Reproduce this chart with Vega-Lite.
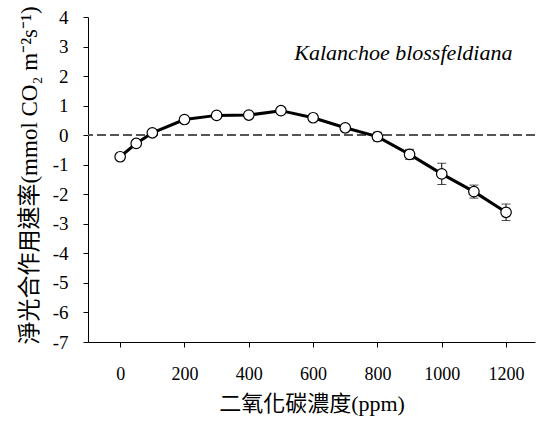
{
  "$schema": "https://vega.github.io/schema/vega-lite/v6.json",
  "autosize": "none",
  "width": 447,
  "height": 325,
  "padding": {"left": 88, "top": 17, "right": 1, "bottom": 86},
  "background": "white",
  "config": {
    "view": {"stroke": null},
    "axis": {
      "domainColor": "black",
      "tickColor": "black",
      "labelColor": "black",
      "titleColor": "black",
      "labelFont": "Liberation Serif",
      "titleFont": "'Liberation Serif', 'Noto Sans CJK TC', serif",
      "labelFontSize": 18,
      "titleFontSize": 22,
      "titleFontWeight": "normal",
      "grid": false,
      "tickSize": 5,
      "domainWidth": 1,
      "tickWidth": 1,
      "labelOverlap": false
    }
  },
  "data": {
    "values": [
      {"co2": 0, "rate": -0.73, "lo": -0.73, "hi": -0.73},
      {"co2": 50, "rate": -0.28, "lo": -0.28, "hi": -0.28},
      {"co2": 100, "rate": 0.08, "lo": 0.08, "hi": 0.08},
      {"co2": 200, "rate": 0.53, "lo": 0.53, "hi": 0.53},
      {"co2": 300, "rate": 0.67, "lo": 0.67, "hi": 0.67},
      {"co2": 400, "rate": 0.68, "lo": 0.68, "hi": 0.68},
      {"co2": 500, "rate": 0.83, "lo": 0.83, "hi": 0.83},
      {"co2": 600, "rate": 0.59, "lo": 0.59, "hi": 0.59},
      {"co2": 700, "rate": 0.25, "lo": 0.15, "hi": 0.35},
      {"co2": 800, "rate": -0.05, "lo": -0.2, "hi": 0.1},
      {"co2": 900, "rate": -0.65, "lo": -0.82, "hi": -0.48},
      {"co2": 1000, "rate": -1.31, "lo": -1.67, "hi": -0.95},
      {"co2": 1100, "rate": -1.91, "lo": -2.13, "hi": -1.69},
      {"co2": 1200, "rate": -2.61, "lo": -2.89, "hi": -2.33}
    ]
  },
  "encoding": {
    "x": {
      "field": "co2", "type": "quantitative",
      "scale": {"domain": [-100, 1290], "nice": false, "zero": false},
      "axis": {"values": [0, 200, 400, 600, 800, 1000, 1200], "labelExpr": "'' + datum.value", "labelPadding": 18, "titlePadding": 10, "labelFlush": false},
      "title": "二氧化碳濃度(ppm)"
    }
  },
  "layer": [
    {
      "mark": {"type": "rule", "color": "#555555", "strokeDash": [9, 4], "strokeWidth": 1.5},
      "encoding": {
        "x": null,
        "y": {
          "datum": 0, "type": "quantitative",
          "scale": {"domain": [-7, 4], "nice": false},
          "axis": {"values": [-7, -6, -5, -4, -3, -2, -1, 0, 1, 2, 3, 4], "tickCount": 12, "labelExpr": "'' + datum.value", "labelFlush": false, "labelFontSize": 19, "labelPadding": 15, "titleFontSize": 23, "titlePadding": 11, "titleY": 158},
          "title": "淨光合作用速率(mmol CO₂ m⁻²s⁻¹)"
        }
      }
    },
    {
      "mark": {"type": "errorbar", "ticks": {"size": 9, "color": "black", "thickness": 1}, "rule": {"color": "black", "strokeWidth": 1}},
      "encoding": {
        "y": {
          "field": "lo", "type": "quantitative",
          "axis": {"values": [-7, -6, -5, -4, -3, -2, -1, 0, 1, 2, 3, 4], "tickCount": 12, "labelExpr": "'' + datum.value", "labelFlush": false, "labelFontSize": 19, "labelPadding": 15, "titleFontSize": 23, "titlePadding": 11, "titleY": 158},
          "title": "淨光合作用速率(mmol CO₂ m⁻²s⁻¹)"
        },
        "y2": {"field": "hi"}
      }
    },
    {
      "mark": {"type": "line", "color": "black", "strokeWidth": 3},
      "encoding": {
        "y": {
          "field": "rate", "type": "quantitative",
          "axis": {"values": [-7, -6, -5, -4, -3, -2, -1, 0, 1, 2, 3, 4], "tickCount": 12, "labelExpr": "'' + datum.value", "labelFlush": false, "labelFontSize": 19, "labelPadding": 15, "titleFontSize": 23, "titlePadding": 11, "titleY": 158},
          "title": "淨光合作用速率(mmol CO₂ m⁻²s⁻¹)"
        }
      }
    },
    {
      "mark": {"type": "point", "shape": "circle", "filled": true, "fill": "white", "stroke": "black", "strokeWidth": 1.2, "size": 110, "opacity": 1},
      "encoding": {
        "y": {
          "field": "rate", "type": "quantitative",
          "axis": {"values": [-7, -6, -5, -4, -3, -2, -1, 0, 1, 2, 3, 4], "tickCount": 12, "labelExpr": "'' + datum.value", "labelFlush": false, "labelFontSize": 19, "labelPadding": 15, "titleFontSize": 23, "titlePadding": 11, "titleY": 158},
          "title": "淨光合作用速率(mmol CO₂ m⁻²s⁻¹)"
        }
      }
    },
    {
      "data": {"values": [{"co2": 1220, "y": 2.53, "label": "Kalanchoe blossfeldiana"}]},
      "mark": {"type": "text", "align": "right", "baseline": "alphabetic", "fontStyle": "italic", "fontSize": 22, "font": "Liberation Serif", "color": "black"},
      "encoding": {
        "y": {
          "field": "y", "type": "quantitative",
          "axis": {"values": [-7, -6, -5, -4, -3, -2, -1, 0, 1, 2, 3, 4], "tickCount": 12, "labelExpr": "'' + datum.value", "labelFlush": false, "labelFontSize": 19, "labelPadding": 15, "titleFontSize": 23, "titlePadding": 11, "titleY": 158},
          "title": "淨光合作用速率(mmol CO₂ m⁻²s⁻¹)"
        },
        "text": {"field": "label"}
      }
    }
  ]
}
